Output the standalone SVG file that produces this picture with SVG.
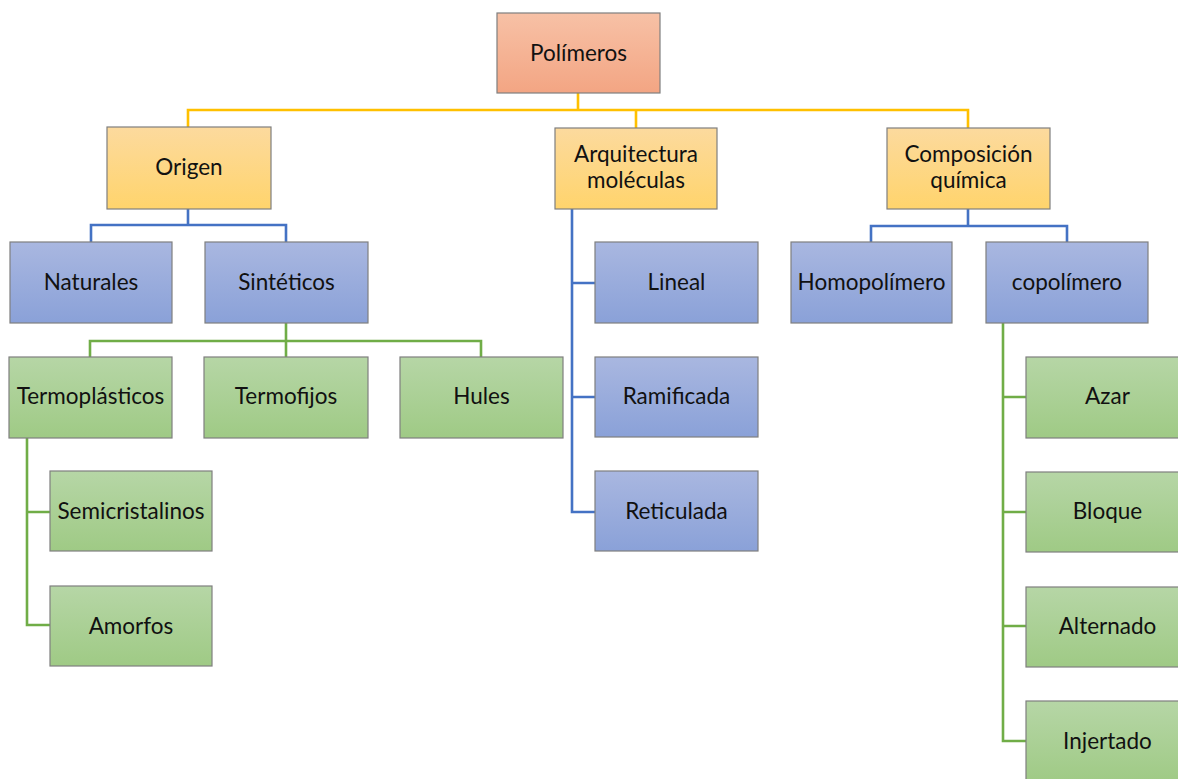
<svg xmlns="http://www.w3.org/2000/svg" width="1178" height="779" viewBox="0 0 1178 779">
  <defs>
    <linearGradient id="gSalmon" x1="0" y1="0" x2="0" y2="1">
      <stop offset="0" stop-color="#F7C1A6"/>
      <stop offset="1" stop-color="#F3A583"/>
    </linearGradient>
    <linearGradient id="gGold" x1="0" y1="0" x2="0" y2="1">
      <stop offset="0" stop-color="#FCDA9E"/>
      <stop offset="1" stop-color="#FFD46C"/>
    </linearGradient>
    <linearGradient id="gBlue" x1="0" y1="0" x2="0" y2="1">
      <stop offset="0" stop-color="#A9B7E0"/>
      <stop offset="1" stop-color="#8AA1D8"/>
    </linearGradient>
    <linearGradient id="gGreen" x1="0" y1="0" x2="0" y2="1">
      <stop offset="0" stop-color="#B6D6A6"/>
      <stop offset="1" stop-color="#9FCA85"/>
    </linearGradient>
  </defs>
  <style>
    rect { stroke: #7F7F7F; stroke-width: 1.2; }
    .root rect { fill: url(#gSalmon); }
    .l1 rect { fill: url(#gGold); }
    .blue rect { fill: url(#gBlue); }
    .green rect { fill: url(#gGreen); }
    text { font-family: Lato, "Open Sans", "Liberation Sans", sans-serif; font-size: 22.5px; fill: #111; text-anchor: middle; }
    .c { fill: none; stroke-width: 2.6; stroke-linecap: square; }
    .cy { stroke: #FFC000; }
    .cb { stroke: #4472C4; }
    .cg { stroke: #70AD47; }
  </style>
  <rect x="0" y="0" width="1178" height="779" fill="#FFFFFF" style="stroke:none"/>

  <g id="connectors">
    <path class="c cy" d="M578,93 V110 M188,110 H968 M188,110 V127 M636,110 V128 M968,110 V128"/>
    <path class="c cb" d="M188,209 V225 M91,225 H286 M91,225 V242 M286,225 V242"/>
    <path class="c cg" d="M286,323 V341 M90,341 H481 M90,341 V357 M286,341 V357 M481,341 V357"/>
    <path class="c cg" d="M27,438 V625 M27,512 H50 M27,625 H50"/>
    <path class="c cb" d="M572,209 V512 M572,283 H595 M572,397 H595 M572,512 H595"/>
    <path class="c cb" d="M968,209 V226 M871,226 H1067 M871,226 V242 M1067,226 V242"/>
    <path class="c cg" d="M1003,323 V741 M1003,397 H1026 M1003,512 H1026 M1003,626 H1026 M1003,741 H1026"/>
  </g>

  <g id="polimeros" class="root">
    <rect x="497" y="13" width="163" height="80"/>
    <text x="578.5" y="61">Polímeros</text>
  </g>

  <g id="origen" class="l1">
    <rect x="107" y="127" width="164" height="82"/>
    <text x="189" y="175">Origen</text>
  </g>
  <g id="arquitectura" class="l1">
    <rect x="555" y="128" width="162" height="81"/>
    <text x="636" y="162">Arquitectura</text>
    <text x="636" y="188">moléculas</text>
  </g>
  <g id="composicion" class="l1">
    <rect x="887" y="128" width="163" height="81"/>
    <text x="968.5" y="162">Composición</text>
    <text x="968.5" y="188">química</text>
  </g>

  <g id="naturales" class="blue">
    <rect x="10" y="242" width="162" height="81"/>
    <text x="91" y="290">Naturales</text>
  </g>
  <g id="sinteticos" class="blue">
    <rect x="205" y="242" width="163" height="81"/>
    <text x="286.5" y="290">Sintéticos</text>
  </g>

  <g id="termoplasticos" class="green">
    <rect x="9" y="357" width="163" height="81"/>
    <text x="90.5" y="404">Termoplásticos</text>
  </g>
  <g id="termofijos" class="green">
    <rect x="204" y="357" width="164" height="81"/>
    <text x="286" y="404">Termofijos</text>
  </g>
  <g id="hules" class="green">
    <rect x="400" y="357" width="163" height="81"/>
    <text x="481.5" y="404">Hules</text>
  </g>

  <g id="semicristalinos" class="green">
    <rect x="50" y="471" width="162" height="80"/>
    <text x="131" y="519">Semicristalinos</text>
  </g>
  <g id="amorfos" class="green">
    <rect x="50" y="586" width="162" height="80"/>
    <text x="131" y="634">Amorfos</text>
  </g>

  <g id="lineal" class="blue">
    <rect x="595" y="242" width="163" height="81"/>
    <text x="676.5" y="290">Lineal</text>
  </g>
  <g id="ramificada" class="blue">
    <rect x="595" y="357" width="163" height="80"/>
    <text x="676.5" y="404">Ramificada</text>
  </g>
  <g id="reticulada" class="blue">
    <rect x="595" y="471" width="163" height="80"/>
    <text x="676.5" y="519">Reticulada</text>
  </g>

  <g id="homopolimero" class="blue">
    <rect x="791" y="242" width="161" height="81"/>
    <text x="871.5" y="290">Homopolímero</text>
  </g>
  <g id="copolimero" class="blue">
    <rect x="986" y="242" width="162" height="81"/>
    <text x="1067" y="290">copolímero</text>
  </g>

  <g id="azar" class="green">
    <rect x="1026" y="357" width="163" height="81"/>
    <text x="1107.5" y="404">Azar</text>
  </g>
  <g id="bloque" class="green">
    <rect x="1026" y="472" width="163" height="80"/>
    <text x="1107.5" y="519">Bloque</text>
  </g>
  <g id="alternado" class="green">
    <rect x="1026" y="587" width="163" height="80"/>
    <text x="1107.5" y="634">Alternado</text>
  </g>
  <g id="injertado" class="green">
    <rect x="1026" y="701" width="163" height="82"/>
    <text x="1107.5" y="749">Injertado</text>
  </g>
</svg>
